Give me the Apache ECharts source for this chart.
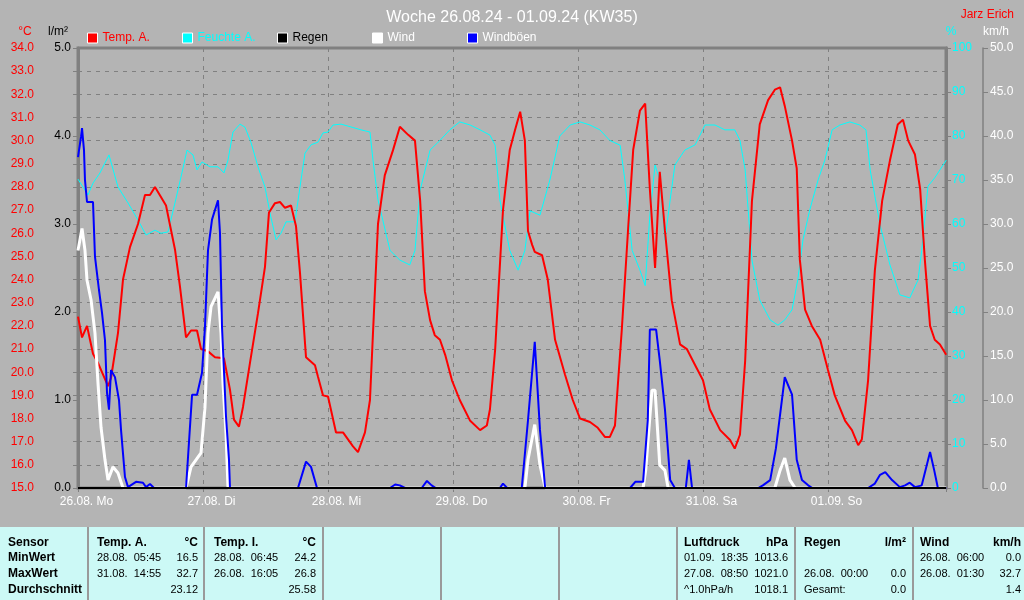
<!DOCTYPE html>
<html>
<head>
<meta charset="utf-8">
<script src="https://cdn.jsdelivr.net/npm/echarts@6/dist/echarts.min.js"></script>
<style>
html,body{margin:0;padding:0;background:#b4b4b4;overflow:hidden;}
#c{width:1024px;height:600px;}
</style>
</head>
<body>
<div id="c"></div>
<script>
// ---------- data (x = hours since 26.08. 00:00) ----------
const titleText = 'Woche 26.08.24 - 01.09.24 (KW35)';
const authorText = 'Jarz Erich';
const dayLabels = ['26.08. Mo','27.08. Di','28.08. Mi','29.08. Do','30.08. Fr','31.08. Sa','01.09. So'];
const seriesNames = ['Temp. A.','Feuchte A.','Regen','Wind','Windböen'];

const tempA = [[0,22.4],[0.77,21.5],[1.73,22.0],[2.88,20.8],[3.84,20.4],[5.76,19.4],[6.34,19.75],[7.68,21.7],[8.64,24.0],[9.98,25.4],[11.52,26.4],[12.86,27.65],[13.82,27.65],[14.78,28.0],[16.9,27.2],[18.62,25.3],[19.58,23.7],[20.74,21.5],[21.7,21.8],[22.85,21.8],[23.62,21.0],[24.96,20.9],[26.3,20.65],[28.03,20.6],[29.18,19.25],[29.95,17.95],[30.91,17.65],[31.68,18.5],[33.02,20.4],[34.56,22.55],[35.9,24.55],[36.67,26.9],[37.82,27.3],[38.78,27.35],[39.74,27.1],[40.9,27.2],[41.86,26.3],[42.62,24.3],[43.78,20.65],[45.5,20.3],[46.08,19.8],[47.04,19.0],[48.0,18.95],[49.54,17.4],[50.88,17.4],[52.8,16.8],[53.76,16.55],[55.1,17.4],[56.06,18.8],[56.64,21.7],[57.6,26.4],[58.9,28.5],[60.5,29.6],[61.8,30.6],[63.4,30.25],[64.7,30.0],[65.7,27.4],[66.6,23.5],[67.6,22.25],[68.5,21.6],[69.5,21.4],[70.5,20.75],[71.8,19.65],[73.3,18.8],[75.3,17.9],[77.2,17.5],[78.5,17.7],[79.1,18.4],[80.1,21.0],[81.6,27.0],[82.9,29.6],[83.9,30.45],[84.9,31.25],[85.8,30.0],[86.4,26.1],[87.2,25.5],[87.7,25.2],[89.1,25.05],[90.2,24.0],[91.6,21.4],[93.5,19.9],[95.0,18.8],[96.4,18.0],[98.3,17.85],[99.8,17.6],[101.2,17.2],[102.1,17.2],[103.1,17.7],[104.4,21.8],[105.6,26.1],[106.6,29.6],[107.9,31.3],[108.9,31.6],[109.8,27.9],[110.8,24.5],[111.7,28.65],[112.7,26.1],[114.0,23.1],[115.6,21.2],[116.9,21.0],[118.5,20.3],[120.0,19.65],[121.3,18.4],[123.3,17.5],[125.2,17.07],[126.1,16.7],[127.1,17.3],[128.1,20.5],[129.4,27.4],[130.9,30.7],[132.5,31.75],[133.8,32.2],[134.8,32.3],[135.7,31.5],[137.1,30.0],[138.0,28.8],[138.6,24.85],[139.6,22.7],[140.9,22.0],[142.5,21.4],[144.0,20.1],[145.3,19.0],[147.3,17.9],[148.6,17.5],[149.8,16.85],[150.5,17.1],[151.7,19.65],[153.0,24.4],[154.4,27.4],[155.9,29.15],[157.4,30.7],[158.4,30.9],[159.4,30.0],[160.7,29.4],[161.7,27.9],[162.6,24.85],[163.6,22.0],[164.5,21.4],[165.5,21.2],[166.7,20.75]];

const feuchteA = [[0,70.2],[1.92,66.6],[2.88,69.3],[4.22,71.6],[5.95,75.7],[7.68,68.4],[9.6,64.8],[11.52,60.9],[13.06,57.5],[14.78,58.6],[15.94,57.9],[17.28,58.2],[18.62,64.8],[19.78,70.7],[20.93,76.8],[22.08,75.7],[22.85,72.3],[23.81,74.1],[25.34,73.0],[26.88,73.0],[28.03,71.6],[28.8,74.5],[29.76,80.9],[31.1,82.7],[32.06,82.0],[33.2,78.6],[34.56,73.0],[35.9,68.4],[36.86,62.5],[38.02,56.4],[38.98,57.9],[39.94,60.5],[41.66,60.5],[42.62,68.4],[43.58,76.1],[44.74,78.0],[46.08,78.6],[47.04,80.7],[48.0,80.9],[48.96,82.5],[50.5,82.7],[53.18,81.8],[54.34,81.4],[56.06,80.9],[56.64,74.5],[57.6,65.5],[59.9,54],[61.8,51.8],[63.7,50.7],[64.7,54],[65.7,67.7],[67.6,76.8],[69.5,79],[71.4,81.4],[73.3,83.2],[75.3,82.5],[77.2,81.4],[79.1,80.2],[80.1,77.9],[81.0,65.5],[82.9,54],[84.5,49.5],[85.8,54],[86.8,63],[88.7,62],[90.6,70],[92.5,80],[94.5,82.5],[96.4,83.2],[98.3,82.5],[100.2,81.4],[102.1,79],[104.1,77.9],[105.0,70],[106.4,54],[107.9,49.5],[108.9,46],[109.8,62],[110.8,73.4],[111.7,70],[112.7,56.4],[113.7,65.5],[114.6,73.4],[116.5,76.8],[118.5,78],[120.4,82.5],[122.3,82.5],[124.2,81.4],[126.1,81.4],[127.1,79],[128.1,72.3],[129.4,51.8],[130.9,42.7],[132.9,38.2],[134.4,37],[135.7,38.2],[137.1,40.5],[138.2,47.3],[139.2,56.4],[140.5,63.2],[142.1,70],[143.4,74.5],[144.8,81.4],[146.3,82.5],[148.2,83.2],[150.1,82.5],[151.3,81.4],[152.1,72.3],[154.0,59.8],[155.9,50.7],[157.8,43.9],[159.7,43.2],[161.3,47.3],[162.0,54],[163.2,68.6],[164.5,70.5],[165.5,72.3],[166.7,74.5]];

const regen = [[0,0],[166.7,0]];

const wind = [[0,27.0],[0.77,29.5],[1.34,27.0],[1.73,23.6],[2.5,21.4],[3.26,17.6],[3.84,11.9],[4.42,6.9],[5.18,3.2],[5.76,0.9],[6.72,2.4],[7.68,1.7],[8.64,0],[20.74,0],[21.7,2.4],[23.62,4.0],[24.38,9.2],[24.96,17.6],[25.54,20.6],[26.88,22.3],[27.46,17.6],[27.84,11.9],[28.42,6.2],[28.8,0],[85.8,0],[86.4,3.2],[87.7,7.2],[88.7,2.6],[89.7,0],[108.5,0],[109.0,2],[110.2,11.1],[110.8,11.1],[111.7,2.6],[112.7,2],[113.3,0],[133.8,0],[134.8,2],[135.7,3.4],[136.7,0.9],[137.7,0],[166.7,0]];

const windboeen = [[0,37.6],[0.58,39.9],[0.77,40.9],[1.15,38.4],[1.34,35],[1.73,32.5],[2.88,32.5],[3.26,26.3],[4.03,22.5],[4.61,19.9],[5.18,16.8],[5.57,10.8],[5.95,8.9],[6.34,13.4],[7.1,12.6],[7.87,10.0],[8.26,6.6],[9.02,1.25],[9.6,0.1],[11.14,0.7],[12.48,0.6],[13.06,0.1],[13.82,0.45],[14.6,0],[20.74,0],[21.9,10.6],[22.85,10.6],[23.81,13.1],[24.38,18.3],[24.96,27],[25.73,30.5],[26.88,32.7],[27.26,29],[27.65,18.3],[28.42,8.1],[28.99,3.2],[29.18,0],[42.24,0],[43.78,3.0],[44.74,2.4],[45.89,0],[59.9,0],[60.9,0.4],[61.8,0.3],[62.8,0],[66.0,0],[67.0,0.8],[67.9,0.3],[68.7,0],[81.0,0],[81.6,0.5],[82.4,0],[85.2,0],[86.4,7.7],[87.7,16.6],[88.7,6.6],[89.7,0],[106.0,0],[107.0,0.7],[108.5,0.7],[109.4,7.7],[109.8,18],[111.0,18],[111.7,14.5],[112.7,8.9],[113.7,0.9],[114.6,0],[116.7,0],[117.3,3.2],[117.9,0],[130.6,0],[131.5,0.3],[132.9,0.9],[134.0,4.5],[135.7,12.6],[137.1,10.6],[138.0,3.2],[139.0,0.9],[140.2,0.3],[141.0,0],[151.7,0],[153.0,0.5],[154.0,1.5],[155.0,1.8],[156.3,0.9],[157.8,0.1],[158.8,0.3],[159.7,0.6],[160.7,0.1],[162.0,0.3],[163.6,4.1],[164.4,2],[165.1,0],[166.7,0]];

// table texts
const tableRowLabels = ['Sensor','MinWert','MaxWert','Durchschnitt'];
const colTempA = [['Temp. A.','°C'],['28.08.  05:45','16.5'],['31.08.  14:55','32.7'],['','23.12']];
const colTempI = [['Temp. I.','°C'],['28.08.  06:45','24.2'],['26.08.  16:05','26.8'],['','25.58']];
const colDruck = [['Luftdruck','hPa'],['01.09.  18:35','1013.6'],['27.08.  08:50','1021.0'],['^1.0hPa/h','1018.1']];
const colRegen = [['Regen','l/m²'],['',''],['26.08.  00:00','0.0'],['Gesamt:','0.0']];
const colWind = [['Wind','km/h'],['26.08.  06:00','0.0'],['26.08.  01:30','32.7'],['','1.4']];

// ---------- styling / layout ----------
const FONT = '"Liberation Sans", Arial, sans-serif';
const GRAY = '#808080';
const colors = ['#ff0000','#00ffff','#000000','#ffffff','#0000ff'];
const legendTextColors = ['#ff0000','#00ffff','#000000','#ffffff','#ffffff'];
const xMaxHours = 166.66;

const chart = echarts.init(document.getElementById('c'), null, {renderer:'canvas'});

const graphics = [];
// axis names
graphics.push({type:'text', x:25, y:32, style:{text:'°C', fill:'#ff0000', font:'12px '+FONT, align:'center', verticalAlign:'middle'}});
graphics.push({type:'text', x:58, y:32, style:{text:'l/m²', fill:'#000000', font:'12px '+FONT, align:'center', verticalAlign:'middle'}});
graphics.push({type:'text', x:951, y:32, style:{text:'%', fill:'#00ffff', font:'12px '+FONT, align:'center', verticalAlign:'middle'}});
graphics.push({type:'text', x:996, y:32, style:{text:'km/h', fill:'#ffffff', font:'12px '+FONT, align:'center', verticalAlign:'middle'}});

// table
const tableTop = 527;
graphics.push({type:'rect', shape:{x:0, y:tableTop, width:1024, height:600-tableTop}, style:{fill:'#ccf9f6'}});
[88,204,323,441,559,677,795,913].forEach(x => {
  graphics.push({type:'line', shape:{x1:x, y1:tableTop, x2:x, y2:600}, style:{stroke:'#9a9a9a', lineWidth:2}});
});
const rowY = [543, 558, 574, 590];
tableRowLabels.forEach((t,i) => {
  graphics.push({type:'text', x:8, y:rowY[i], style:{text:t, fill:'#000', font:'bold 12px '+FONT, verticalAlign:'middle'}});
});
function addCol(col, xl, xr){
  col.forEach((r,i) => {
    const f = (i===0 ? 'bold 12px ' : '11px ') + FONT;
    graphics.push({type:'text', x:xl, y:rowY[i], style:{text:r[0], fill:'#000', font:f, verticalAlign:'middle'}});
    graphics.push({type:'text', x:xr, y:rowY[i], style:{text:r[1], fill:'#000', font:f, align:'right', verticalAlign:'middle'}});
  });
}
addCol(colTempA, 97, 198);
addCol(colTempI, 214, 316);
addCol(colDruck, 684, 788);
addCol(colRegen, 804, 906);
addCol(colWind, 920, 1021);

const dash = {color:GRAY, type:[4,5], width:1};

const option = {
  animation:false,
  backgroundColor:'#b4b4b4',
  textStyle:{fontFamily:FONT},
  title:[
    {text:titleText, left:'center', top:5, textStyle:{color:'#ffffff', fontSize:16, fontWeight:'normal', fontFamily:FONT}},
    {text:authorText, right:5, top:4, textStyle:{color:'#ff0000', fontSize:12, fontWeight:'normal', fontFamily:FONT}}
  ],
  legend: seriesNames.map((n,i) => ({
    data:[{name:n, textStyle:{color:legendTextColors[i]}}],
    left:87 + 95*i, top:32, padding:0, icon:'rect', itemWidth:10, itemHeight:10,
    selectedMode:false,
    itemStyle:{borderColor:'#ffffff', borderWidth:1},
    textStyle:{fontSize:12, fontFamily:FONT}
  })),
  grid:{left:78, top:48, width:868, height:440, show:true, borderColor:GRAY, borderWidth:3, backgroundColor:'#b4b4b4', containLabel:false},
  xAxis:{
    type:'value', min:0, max:xMaxHours, interval:24,
    axisLine:{show:true, lineStyle:{color:GRAY, width:2}},
    axisTick:{show:true, length:4, lineStyle:{color:GRAY}},
    axisLabel:{color:'#ffffff', fontSize:12, fontFamily:FONT, margin:8, align:'center', padding:[0,0,0,17],
      formatter: v => (Math.abs(v % 24) < 1e-6 && v/24 < dayLabels.length) ? dayLabels[Math.round(v/24)] : ''},
    splitLine:{show:true, lineStyle:dash}
  },
  yAxis:[
    {type:'value', position:'left', offset:37, min:15, max:34, interval:1,
      axisLine:{show:true, lineStyle:{color:GRAY, width:1.5}},
      axisTick:{show:true, length:5, lineStyle:{color:GRAY}},
      axisLabel:{color:'#ff0000', fontSize:12, fontFamily:FONT, margin:7, formatter:v=>v.toFixed(1)},
      splitLine:{show:true, lineStyle:dash}},
    {type:'value', position:'left', offset:0, min:0, max:5, interval:1,
      axisLine:{show:true, lineStyle:{color:GRAY, width:3}},
      axisTick:{show:true, length:5, lineStyle:{color:GRAY}},
      axisLabel:{color:'#000000', fontSize:12, fontFamily:FONT, margin:7, formatter:v=>v.toFixed(1)},
      splitLine:{show:false}},
    {type:'value', position:'right', offset:0, min:0, max:100, interval:10,
      axisLine:{show:true, lineStyle:{color:GRAY, width:3}},
      axisTick:{show:true, length:5, lineStyle:{color:GRAY}},
      axisLabel:{color:'#00ffff', fontSize:12, fontFamily:FONT, margin:6, formatter:v=>String(v)},
      splitLine:{show:false}},
    {type:'value', position:'right', offset:37, min:0, max:50, interval:5,
      axisLine:{show:true, lineStyle:{color:GRAY, width:1.5}},
      axisTick:{show:true, length:5, lineStyle:{color:GRAY}},
      axisLabel:{color:'#ffffff', fontSize:12, fontFamily:FONT, margin:7, formatter:v=>v.toFixed(1)},
      splitLine:{show:false}}
  ],
  series:[
    {name:seriesNames[0], type:'line', yAxisIndex:0, data:tempA, showSymbol:false, color:colors[0], lineStyle:{width:2, color:colors[0]}, z:3},
    {name:seriesNames[1], type:'line', yAxisIndex:2, data:feuchteA, showSymbol:false, color:colors[1], lineStyle:{width:1, color:colors[1]}, z:2},
    {name:seriesNames[2], type:'line', yAxisIndex:1, data:regen, showSymbol:false, color:colors[2], lineStyle:{width:2, color:colors[2]}, z:4},
    {name:seriesNames[3], type:'line', yAxisIndex:3, data:wind, showSymbol:false, color:colors[3], lineStyle:{width:3, color:colors[3]}, z:3},
    {name:seriesNames[4], type:'line', yAxisIndex:3, data:windboeen, showSymbol:false, color:colors[4], lineStyle:{width:2, color:colors[4]}, z:3}
  ],
  graphic:graphics
};
chart.setOption(option);
</script>
</body>
</html>
